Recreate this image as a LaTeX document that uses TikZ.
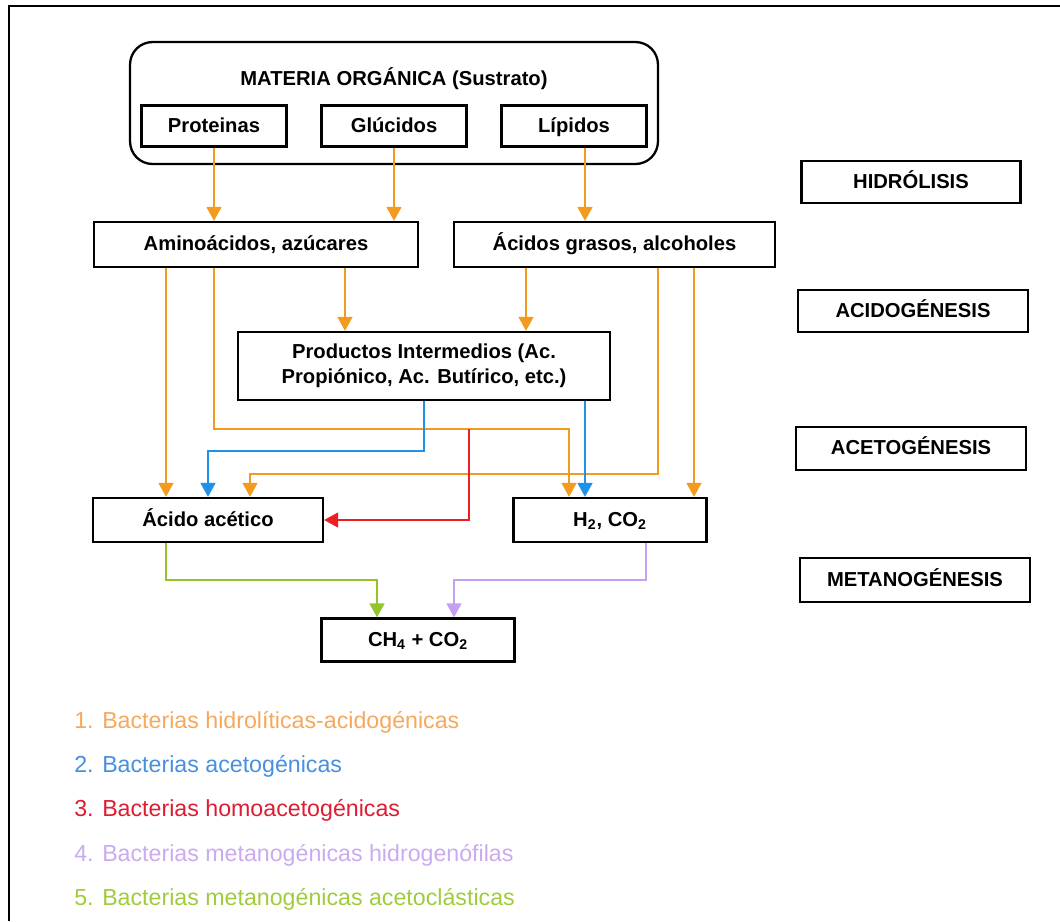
\documentclass[tikz,border=0pt]{standalone}
\usepackage{fontspec}
\setmainfont{Liberation Sans}
\usepackage{tikz}
\usetikzlibrary{shapes,arrows,arrows.meta}
\usetikzlibrary{calc}
\definecolor{naranja}{RGB}{243, 155, 30}
\definecolor{azul}{RGB}{30, 146, 232}
\definecolor{rojo}{RGB}{236, 30, 36}
\definecolor{lila}{RGB}{196, 160, 242}
\definecolor{verde}{RGB}{146, 198, 40}
\definecolor{leynaranja}{RGB}{246, 168, 92}
\definecolor{leyazul}{RGB}{72, 144, 222}
\definecolor{leyrojo}{RGB}{222, 28, 50}
\definecolor{leylila}{RGB}{202, 170, 240}
\definecolor{leyverde}{RGB}{160, 204, 60}

\begin{document}
\begin{tikzpicture}[x=0.02cm,y=-0.02cm]

\tikzstyle{caja} = [draw, line width=1.3pt, inner sep=0, align=center,
text height=1.6ex, text depth=0.3ex, font=\fontsize{11.5}{14}\selectfont\bfseries]
\tikzstyle{fase} = [caja, minimum width=4.6cm, minimum height=0.86cm]
\tikzstyle{flecha} = [line width=1.1pt, -{Triangle[width=8.5pt,length=8pt]}]
\tikzstyle{leyenda} = [anchor=west, inner sep=0, font=\fontsize{13.2}{15}\selectfont]

\useasboundingbox (0,0) rectangle (1060,921);
\draw[line width=1.6pt] (9,921) -- (9,6) -- (1060,6);

% materia organica
\node [draw, line width=1.3pt, rounded corners=0.45cm, minimum width=10.56cm, minimum height=2.44cm] (materia) at (394,103) {};
\node [font=\fontsize{11.5}{14}\selectfont\bfseries] (titulo) at (394,79) {MATERIA ORGÁNICA (Sustrato)};
\node [caja, minimum width=2.9cm, minimum height=0.82cm] (prot) at (214,126) {Proteinas};
\node [caja, minimum width=2.9cm, minimum height=0.82cm] (gluc) at (394,126) {Glúcidos};
\node [caja, minimum width=2.9cm, minimum height=0.82cm] (lip) at (574,126) {Lípidos};

\node [caja, minimum width=6.47cm, minimum height=0.9cm] (amino) at (256,244.5) {Aminoácidos, azúcares};
\node [caja, minimum width=6.42cm, minimum height=0.9cm] (grasos) at (614.5,244.5) {Ácidos grasos, alcoholes};
\node [caja, text height=, text depth=, minimum width=7.44cm, minimum height=1.36cm] (prod) at (424,366) {Productos Intermedios (Ac.\\ Propiónico, Ac. Butírico, etc.)};
\node [caja, minimum width=4.6cm, minimum height=0.88cm] (acet) at (208,520) {Ácido acético};
\node [caja, minimum width=3.86cm, minimum height=0.88cm] (h2) at (610,520) {H\textsubscript{2}, CO\textsubscript{2}};
\node [caja, minimum width=3.86cm, minimum height=0.86cm] (ch4) at (418,640) {CH\textsubscript{4} + CO\textsubscript{2}};

% fases
\node [fase, minimum width=4.38cm, minimum height=0.84cm] (hid) at (911,182) {HIDRÓLISIS};
\node [fase, minimum height=0.84cm] (acid) at (913,311) {ACIDOGÉNESIS};
\node [fase] (acetg) at (911,448.5) {ACETOGÉNESIS};
\node [fase, minimum height=0.88cm] (met) at (915,580) {METANOGÉNESIS};

% hidrolisis y acidogenesis
\draw[flecha, naranja] (214,0 |- prot.south) -- (214,0 |- amino.north);
\draw[flecha, naranja] (394,0 |- gluc.south) -- (394,0 |- amino.north);
\draw[flecha, naranja] (585,0 |- lip.south) -- (585,0 |- grasos.north);
\draw[flecha, naranja] (166,0 |- amino.south) -- (166,0 |- acet.north);
\draw[flecha, naranja] (345,0 |- amino.south) -- (345,0 |- prod.north);
\draw[flecha, naranja] (526,0 |- grasos.south) -- (526,0 |- prod.north);
\draw[flecha, naranja] (214,0 |- amino.south) |- (569,429) -- (569,0 |- h2.north);
\draw[flecha, naranja] (658,0 |- grasos.south) |- (250,474) -- (250,0 |- acet.north);
\draw[flecha, naranja] (694,0 |- grasos.south) -- (694,0 |- h2.north);
\coordinate (rama) at (469,429);

% acetogenesis
\draw[flecha, azul] (424,0 |- prod.south) |- (208,451) -- (208,0 |- acet.north);
\draw[flecha, azul] (585,0 |- prod.south) -- (585,0 |- h2.north);
\draw[flecha, rojo] (rama) |- (acet.east);

% metanogenesis
\draw[flecha, verde] (166,0 |- acet.south) |- (377,580) -- (377,0 |- ch4.north);
\draw[flecha, lila] (646,0 |- h2.south) |- (454,580) -- (454,0 |- ch4.north);

% leyenda
\node [leyenda, text=leynaranja] (ley1) at (74,722) {1. Bacterias hidrolíticas-acidogénicas};
\node [leyenda, text=leyazul] (ley2) at (74,766) {2. Bacterias acetogénicas};
\node [leyenda, text=leyrojo] (ley3) at (74,810) {3. Bacterias homoacetogénicas};
\node [leyenda, text=leylila] (ley4) at (74,855) {4. Bacterias metanogénicas hidrogenófilas};
\node [leyenda, text=leyverde] (ley5) at (74,899) {5. Bacterias metanogénicas acetoclásticas};

\end{tikzpicture}
\end{document}
